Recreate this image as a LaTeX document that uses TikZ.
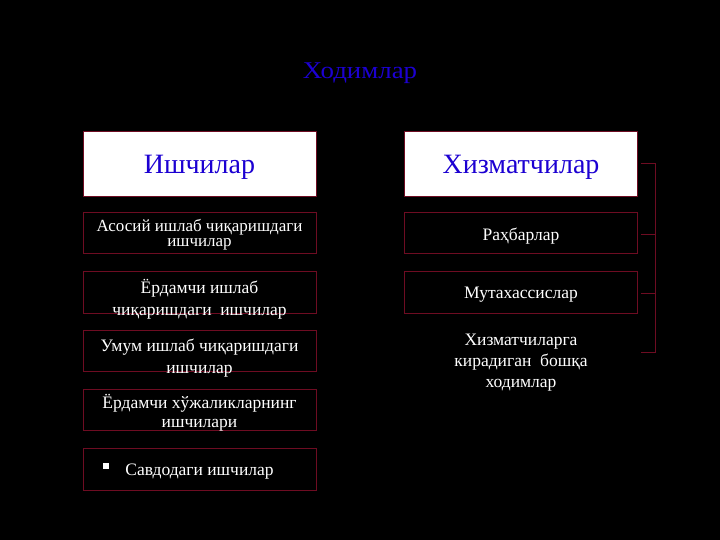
\documentclass[tikz,border=0pt]{standalone}
\usepackage{fontspec}
\setmainfont{Liberation Serif}
\definecolor{boxred}{RGB}{110,12,34}
\definecolor{headblue}{RGB}{28,0,210}
\begin{document}
\begin{tikzpicture}[x=1pt,y=-1pt,
  lastline/.style={text height=#1, text depth=0pt},
  head/.style={draw=boxred, fill=white, minimum width=233pt, minimum height=65pt, inner sep=0pt, text=headblue, font=\fontsize{28}{30}\selectfont, lastline=19.6pt},
  item/.style={draw=boxred, fill=black, minimum width=233pt, minimum height=41.5pt, inner xsep=0pt, inner ysep=-25pt, text=white, align=center, font=\fontsize{17.5}{22}\selectfont},
  plain/.style={text=white, align=center, inner sep=0pt, font=\fontsize{17.5}{21}\selectfont}]
\fill[black] (0,0) rectangle (720,540);
\useasboundingbox (0,0) rectangle (720,540);
\node[text=headblue, font=\fontsize{24}{26}\selectfont] (title) at (360,73){\scalebox{1.12}[1]{Ходимлар}};
% ishchilar
\node[head] (ish) at (199.5,163.5){Ишчилар};
\node[item, font=\fontsize{17}{16}\selectfont, lastline=29pt] (ish1) at (199.5,232.5){Асосий ишлаб чиқаришдаги\\ишчилар};
\node[item, lastline=46pt] (ish2) at (199.5,292){Ёрдамчи ишлаб\\чиқаришдаги \ ишчилар};
\node[item, lastline=45pt] (ish3) at (199.5,350.5){Умум ишлаб чиқаришдаги\\ишчилар};
\node[item, font=\fontsize{17.5}{19}\selectfont, lastline=35pt] (ish4) at (199.5,409.5){Ёрдамчи хўжаликларнинг\\ишчилари};
\node[item, lastline=12pt] (ish5) at (199.5,469){Савдодаги ишчилар};
\node[fill=white, minimum size=6pt, inner sep=0pt] (dot5) at (106,466){};
% xizmatchilar
\node[head] (xiz) at (521,163.5){Хизматчилар};
\node[item, lastline=16.4pt] (xiz1) at (521,232.5){Раҳбарлар};
\node[item, lastline=12.6pt] (xiz2) at (521,292){Мутахассислар};
\node[plain, lastline=42.6pt] (xiz3) at (521,366){Хизматчиларга\\кирадиган \ бошқа\\ходимлар};
% bracket
\coordinate (br0) at (641,163);
\coordinate (br1) at (641,234);
\coordinate (br2) at (641,293);
\coordinate (br3) at (641,352);
\coordinate (top) at (655,163);
\coordinate (bot) at (655,352);
\draw[boxred, line width=0.8pt](br0) -- (top) -- (bot) -- (br3);
\draw[boxred, line width=0.8pt](br1) -- (br1 -| top);
\draw[boxred, line width=0.8pt](br2) -- (br2 -| top);
\end{tikzpicture}
\end{document}
